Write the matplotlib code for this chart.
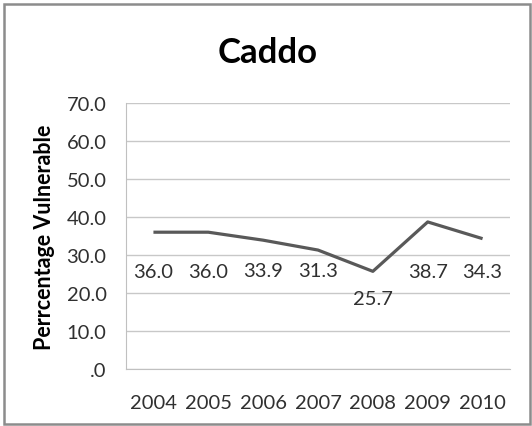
import matplotlib
matplotlib.use('Agg')
import matplotlib.pyplot as plt
from matplotlib.patches import Rectangle

# Data
years = ['2004', '2005', '2006', '2007', '2008', '2009', '2010']
values = [36.0, 36.0, 33.9, 31.3, 25.7, 38.7, 34.3]
y_ticks = [0, 10, 20, 30, 40, 50, 60, 70]
y_tick_labels = ['.0', '10.0', '20.0', '30.0', '40.0', '50.0', '60.0', '70.0']
# label placement below each point (pixels)
label_offsets = [-39, -39, -30, -20, -27, -50, -33]

plt.rcParams['font.family'] = ['Lato', 'DejaVu Sans']

fig = plt.figure(figsize=(5.32, 4.27), dpi=100)
W, H = 532, 427
ax = fig.add_axes([126 / W, 1 - 370 / H, (510 - 126) / W, (370 - 104) / H])

x = list(range(len(years)))
ax.plot(x, values, color='#595959', linewidth=2.3, solid_capstyle='butt')
for i, v in enumerate(values):
    ax.annotate('%.1f' % v, (i, v), xytext=(0, label_offsets[i]),
                textcoords='offset pixels', ha='center', va='center',
                fontsize=14.5, color='#303030')

ax.set_xlim(-0.5, len(years) - 0.5)
ax.set_ylim(0, 70)
ax.set_xticks(x)
ax.set_xticklabels(years)
ax.set_yticks(y_ticks)
ax.set_yticklabels(y_tick_labels)
ax.tick_params(length=0, labelsize=14.5, colors='#303030')
ax.tick_params(axis='y', pad=14)
ax.tick_params(axis='x', pad=18)
ax.grid(axis='y', color='#c8c8c8', linewidth=1)
ax.set_axisbelow(True)
for s in ['top', 'right']:
    ax.spines[s].set_visible(False)
for s in ['left', 'bottom']:
    ax.spines[s].set_color('#c0c0c0')

fig.text(45 / W, 1 - 237 / H, 'Perrcentage Vulnerable', rotation=90,
         ha='center', va='center', fontsize=15.5, fontweight='bold')

fig.text(268 / W, 1 - 53 / H, 'Caddo', ha='center', va='center',
         fontsize=25, fontweight='bold')

fig.patches.append(Rectangle((4 / W, 2 / H), 526 / W, 1 - 7 / H,
                             transform=fig.transFigure, fill=False,
                             edgecolor='#8c8c8c', linewidth=1.8))

fig.savefig('out.png', dpi=100)
